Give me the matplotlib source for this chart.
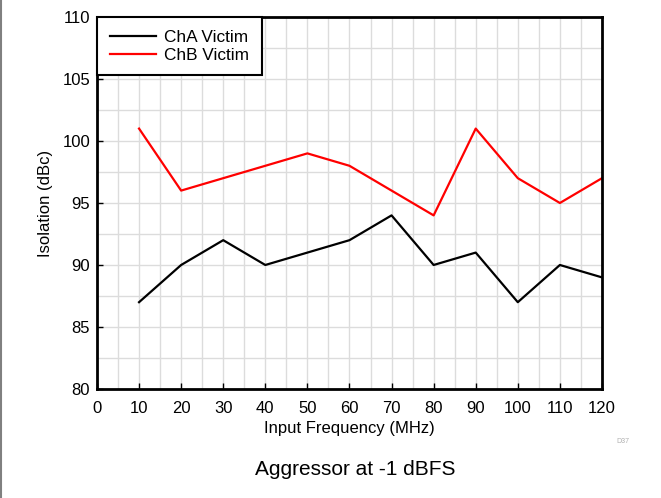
import matplotlib
matplotlib.use("Agg")
import matplotlib.pyplot as plt
from matplotlib.ticker import MultipleLocator

plt.rcParams['font.family'] = ['Liberation Sans', 'DejaVu Sans']

freq_mhz = [10, 20, 30, 40, 50, 60, 70, 80, 90, 100, 110, 120]
cha_victim = [87, 90, 92, 90, 91, 92, 94, 90, 91, 87, 90, 89]
chb_victim = [101, 96, 97, 98, 99, 98, 96, 94, 101, 97, 95, 97]

fig = plt.figure(figsize=(6.61, 4.98), dpi=100)
ax = fig.add_axes([0.1467, 0.2189, 0.9107 - 0.1467, 0.9659 - 0.2189])

ax.plot(freq_mhz, cha_victim, color='black', lw=1.6, label='ChA Victim')
ax.plot(freq_mhz, chb_victim, color='#ff0000', lw=1.6, label='ChB Victim')

ax.set_xlim(0, 120)
ax.set_ylim(80, 110)
ax.xaxis.set_major_locator(MultipleLocator(10))
ax.xaxis.set_minor_locator(MultipleLocator(5))
ax.yaxis.set_major_locator(MultipleLocator(5))
ax.yaxis.set_minor_locator(MultipleLocator(2.5))
ax.grid(which='both', color='#dcdcdc', lw=1.0)
ax.set_axisbelow(True)
ax.tick_params(which='major', direction='in', length=4, width=1, labelsize=12)
ax.tick_params(axis='x', which='major', pad=9)
ax.tick_params(axis='y', which='major', pad=5)
ax.tick_params(which='minor', length=0)
for s in ax.spines.values():
    s.set_linewidth(2)

ax.set_xlabel('Input Frequency (MHz)', fontsize=12, labelpad=3.5)
ax.set_ylabel('Isolation (dBc)', fontsize=12, labelpad=7)

leg = ax.legend(loc='upper left', fontsize=12.4, fancybox=False, framealpha=1,
                edgecolor='black', borderaxespad=0, handlelength=2.7,
                borderpad=0.74, labelspacing=0.16, handletextpad=0.46)
leg.get_frame().set_linewidth(1.5)

fig.text(0.9425, 0.114, 'D37', fontsize=5, color='#b0b0b0', ha='center', va='center')
fig.text(0.537, 0.058, 'Aggressor at -1 dBFS', fontsize=15, ha='center', va='center')

fig.add_artist(plt.Line2D([0.0008, 0.0008], [0, 1], color='#808080', lw=1.5,
                          transform=fig.transFigure))

fig.savefig('out.png', dpi=100)
